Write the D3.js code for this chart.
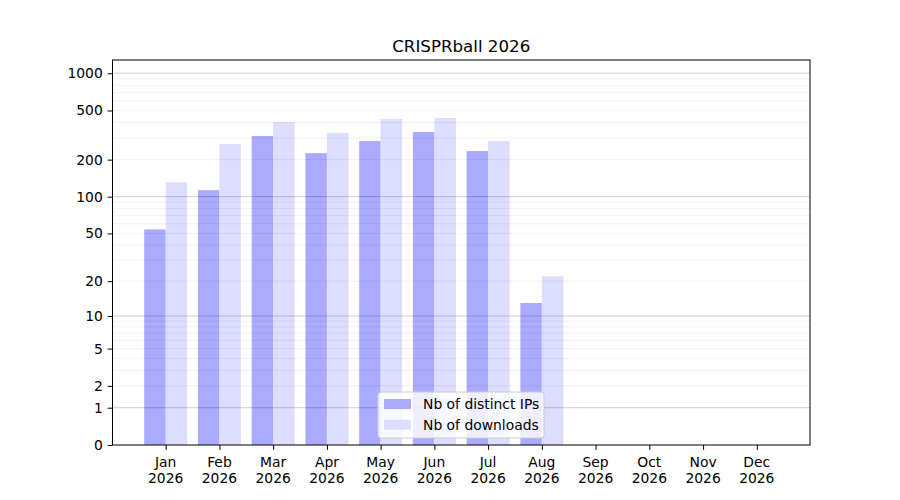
<!DOCTYPE html>
<html>
<head>
<meta charset="utf-8">
<script src="https://cdn.jsdelivr.net/npm/d3@7"></script>
<style>
  body { margin: 0; background: #fff; }
  text { font-family: "DejaVu Sans", sans-serif; fill: #000; }
</style>
</head>
<body>
<svg width="900" height="500"></svg>
<script>
// chart data
const months = ["Jan", "Feb", "Mar", "Apr", "May", "Jun", "Jul", "Aug", "Sep", "Oct", "Nov", "Dec"];
const year = "2026";
const distinctIPs = [54, 113, 311, 226, 283, 335, 235, 13, 0, 0, 0, 0];
const downloads = [131, 268, 404, 329, 427, 435, 283, 22, 0, 0, 0, 0];
const yTickValues = [0, 1, 2, 5, 10, 20, 50, 100, 200, 500, 1000];
const majorGrid = [1, 10, 100, 1000];
const minorGrid = [2, 3, 4, 5, 6, 7, 8, 9, 20, 30, 40, 50, 60, 70, 80, 90, 200, 300, 400, 500, 600, 700, 800, 900];

const svg = d3.select("svg");
var plotLeft = 112.5, plotRight = 810, plotTop = 60, plotBottom = 445;
var fontSize = 13.89;

var x = d3.scaleLinear().domain([-0.99, 11.99]).range([plotLeft, plotRight]);
var y = d3.scaleSymlog().constant(1).domain([0, 1280]).range([plotBottom, plotTop]);
var barW = x(0.4) - x(0);

// bars
svg.append("g")
  .selectAll("rect")
  .data(distinctIPs)
  .join("rect")
  .attr("x", (d, i) => x(i - 0.4))
  .attr("y", d => y(d))
  .attr("width", barW)
  .attr("height", d => plotBottom - y(d))
  .attr("fill", "#aaaaff");

svg.append("g")
  .selectAll("rect")
  .data(downloads)
  .join("rect")
  .attr("x", (d, i) => x(i))
  .attr("y", d => y(d))
  .attr("width", barW)
  .attr("height", d => plotBottom - y(d))
  .attr("fill", "#ddddff");

// grid on top of the bars
svg.append("g")
  .selectAll("line")
  .data(minorGrid)
  .join("line")
  .attr("x1", plotLeft).attr("x2", plotRight)
  .attr("y1", d => y(d)).attr("y2", d => y(d))
  .attr("stroke", "#000").attr("stroke-opacity", 0.075).attr("stroke-width", 0.8);

svg.append("g")
  .selectAll("line")
  .data(majorGrid)
  .join("line")
  .attr("x1", plotLeft).attr("x2", plotRight)
  .attr("y1", d => y(d)).attr("y2", d => y(d))
  .attr("stroke", "#000").attr("stroke-opacity", 0.25).attr("stroke-width", 0.8);

// frame
svg.append("rect")
  .attr("x", plotLeft).attr("y", plotTop)
  .attr("width", plotRight - plotLeft).attr("height", plotBottom - plotTop)
  .attr("fill", "none").attr("stroke", "#000").attr("stroke-width", 1);

// y axis
var yAxis = svg.append("g")
  .attr("transform", `translate(${plotLeft},0)`)
  .call(d3.axisLeft(y).tickValues(yTickValues).tickFormat(d3.format("d")).tickSize(4.86).tickPadding(4.86));
yAxis.select(".domain").remove();
yAxis.selectAll("text").attr("font-size", fontSize).style("font-family", "DejaVu Sans");

// x axis
var xAxis = svg.append("g")
  .attr("transform", `translate(0,${plotBottom})`)
  .call(d3.axisBottom(x).tickValues(d3.range(months.length)).tickFormat("").tickSize(4.86));
xAxis.select(".domain").remove();

svg.append("g")
  .selectAll("text")
  .data(months)
  .join("text")
  .attr("x", (d, i) => x(i))
  .attr("y", 466.5)
  .attr("text-anchor", "middle")
  .attr("font-size", fontSize)
  .each(function (d) {
    d3.select(this).append("tspan").attr("x", d3.select(this).attr("x")).text(d);
    d3.select(this).append("tspan").attr("x", d3.select(this).attr("x")).attr("dy", 16).text(year);
  });

// title
svg.append("text")
  .attr("x", (plotLeft + plotRight) / 2)
  .attr("y", 52)
  .attr("text-anchor", "middle")
  .attr("font-size", 16.67)
  .text("CRISPRball " + year);

// legend
var legend = svg.append("g");
legend.append("rect")
  .attr("x", 378).attr("y", 392)
  .attr("width", 166).attr("height", 46)
  .attr("rx", 3)
  .attr("fill", "#fff").attr("fill-opacity", 0.8)
  .attr("stroke", "#ccc").attr("stroke-width", 1);

var legendItems = [
  { label: "Nb of distinct IPs", color: "#aaaaff" },
  { label: "Nb of downloads", color: "#ddddff" }
];
legendItems.forEach(function (item, i) {
  legend.append("rect")
    .attr("x", 384).attr("y", 399 + i * 20.7)
    .attr("width", 27).attr("height", 10)
    .attr("fill", item.color);
  legend.append("text")
    .attr("x", 423).attr("y", 409 + i * 20.7)
    .attr("font-size", fontSize)
    .text(item.label);
});
</script>
</body>
</html>
